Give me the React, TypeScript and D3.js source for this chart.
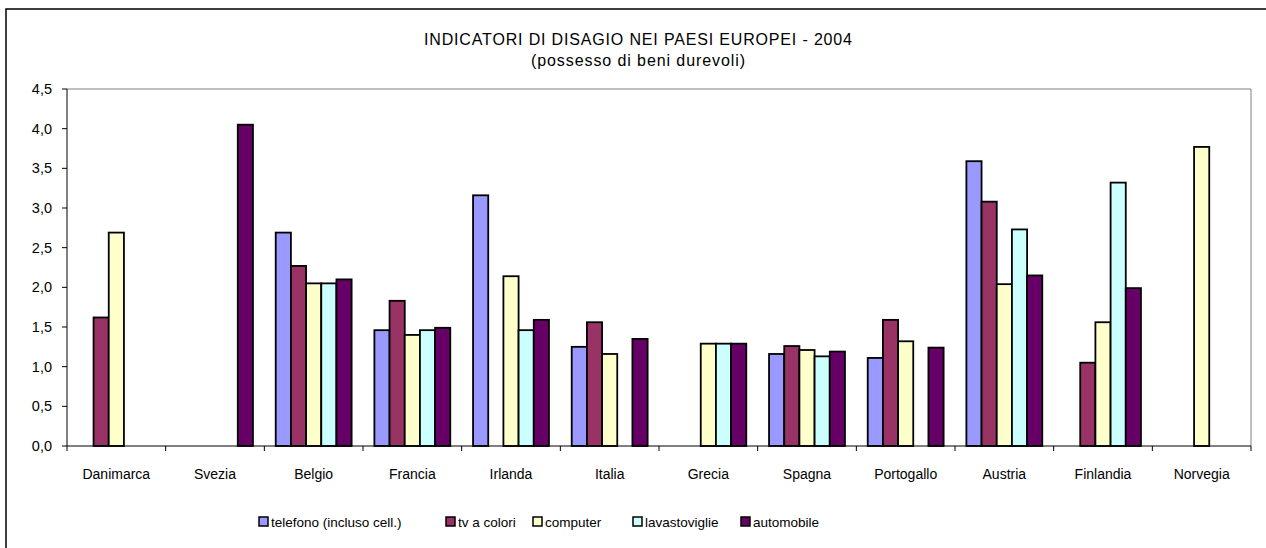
import React from "react";
import * as d3 from "d3";

const categories = ["Danimarca", "Svezia", "Belgio", "Francia", "Irlanda", "Italia", "Grecia", "Spagna", "Portogallo", "Austria", "Finlandia", "Norvegia"];
const seriesNames = ["telefono (incluso cell.)", "tv a colori", "computer", "lavastoviglie", "automobile"];
const seriesColors = ["#9999FF", "#993366", "#FFFFCC", "#CCFFFF", "#660066"];

const telefono = [null, null, 2.69, 1.46, 3.16, 1.25, null, 1.16, 1.11, 3.59, null, null];
const tvColori = [1.62, null, 2.27, 1.83, null, 1.56, null, 1.26, 1.59, 3.08, 1.05, null];
const computer = [2.69, null, 2.05, 1.40, 2.14, 1.16, 1.29, 1.21, 1.32, 2.04, 1.56, 3.77];
const lavastoviglie = [null, null, 2.05, 1.46, 1.46, null, 1.29, 1.13, null, 2.73, 3.32, null];
const automobile = [null, 4.05, 2.10, 1.49, 1.59, 1.35, 1.29, 1.19, 1.24, 2.15, 1.99, null];

const yTicks = [0, 0.5, 1, 1.5, 2, 2.5, 3, 3.5, 4, 4.5];
const legendX = [259, 446, 533, 633, 741];

const W = 1266, H = 548;
const PL = 67, PR = 1251, PT = 89, PB = 446;
const FONT = "'Liberation Sans', Arial, sans-serif";

export default function App() {
  const series = [telefono, tvColori, computer, lavastoviglie, automobile];
  const x0 = d3.scaleBand<string>().domain(categories).range([PL, PR]).padding(0);
  const cw = x0.bandwidth();
  const bw = cw / 6.5;
  const x1 = d3.scaleBand<string>().domain(seriesNames).range([0.75 * bw, 5.75 * bw]).padding(0);
  const y = d3.scaleLinear().domain([0, 4.5]).range([PB, PT]);
  const fmt = (v: number) => v.toFixed(1).replace(".", ",");

  return (
    <svg width={W} height={H} style={{ position: "absolute", left: 0, top: 0, background: "#fff" }} fontFamily={FONT}>
      <rect x={0} y={0} width={W} height={H} fill="#fff" />
      <rect x={6} y={9} width={W + 20} height={H + 20} fill="#fff" stroke="#000" strokeWidth={1.5} />
      <text x={638} y={45} textAnchor="middle" fontSize={16} fill="#000" textLength={428} lengthAdjust="spacing">INDICATORI DI DISAGIO NEI PAESI EUROPEI - 2004</text>
      <text x={638} y={66} textAnchor="middle" fontSize={16} fill="#000" textLength={214} lengthAdjust="spacing">(possesso di beni durevoli)</text>

      {/* plot area border */}
      <line x1={PL} x2={PR} y1={PT} y2={PT} stroke="#808080" strokeWidth={1} />
      <line x1={PR} x2={PR} y1={PT} y2={PB} stroke="#808080" strokeWidth={1} />

      {/* bars */}
      {series.map((vals, si) =>
        vals.map((v, ci) =>
          v == null ? null : (
            <rect
              key={`${si}-${ci}`}
              x={(x0(categories[ci]) as number) + (x1(seriesNames[si]) as number)}
              y={y(v)}
              width={x1.bandwidth()}
              height={y(0) - y(v)}
              fill={seriesColors[si]}
              stroke="#000"
              strokeWidth={1.8}
            />
          )
        )
      )}

      {/* y axis */}
      <line x1={PL} x2={PL} y1={PT} y2={PB} stroke="#000" strokeWidth={1} />
      {yTicks.map((t) => (
        <g key={t}>
          <line x1={PL - 5} x2={PL} y1={y(t)} y2={y(t)} stroke="#000" />
          <text x={PL - 15} y={y(t)} dy="0.35em" textAnchor="end" fontSize={14.5} fill="#000">{fmt(t)}</text>
        </g>
      ))}

      {/* x axis */}
      <line x1={PL} x2={PR} y1={PB} y2={PB} stroke="#000" strokeWidth={1} />
      {categories.map((c) => (
        <line key={"t" + c} x1={x0(c)} x2={x0(c)} y1={PB} y2={PB + 5} stroke="#000" />
      ))}
      <line x1={PR} x2={PR} y1={PB} y2={PB + 5} stroke="#000" />
      {categories.map((c) => (
        <text key={"l" + c} x={(x0(c) as number) + cw / 2} y={479} textAnchor="middle" fontSize={14} fill="#000">{c}</text>
      ))}

      {/* legend */}
      {seriesNames.map((s, i) => (
        <g key={s}>
          <rect x={legendX[i]} y={517} width={9} height={9} fill={seriesColors[i]} stroke="#000" strokeWidth={1.5} />
          <text x={legendX[i] + 12} y={527} fontSize={13.5} fill="#000">{s}</text>
        </g>
      ))}
    </svg>
  );
}
